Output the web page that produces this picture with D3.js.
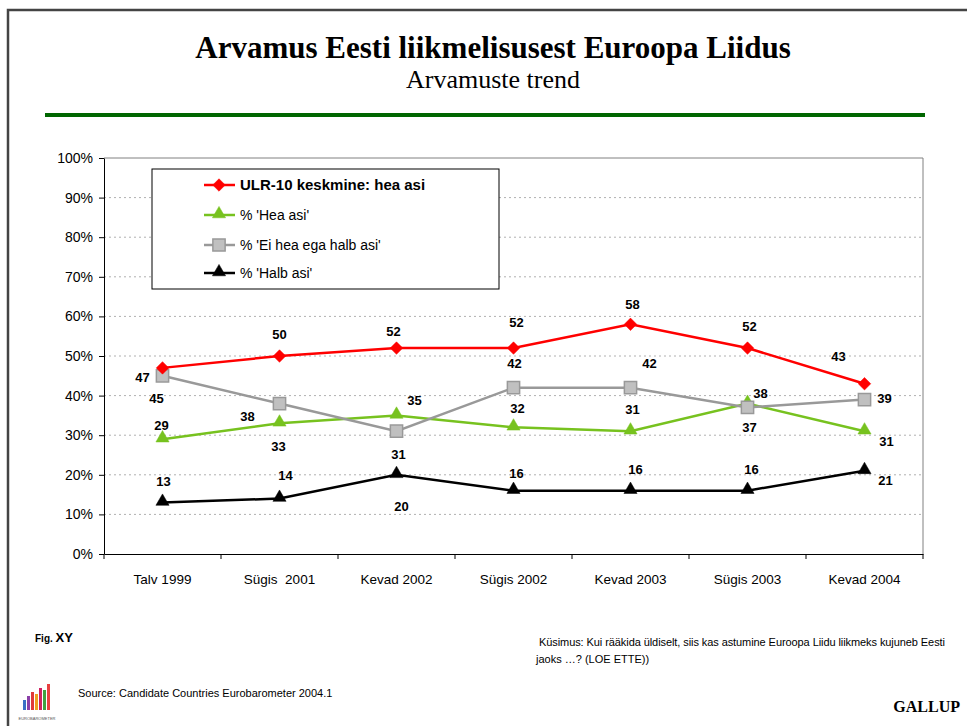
<!DOCTYPE html>
<html>
<head>
<meta charset="utf-8">
<script src="https://cdn.jsdelivr.net/npm/d3@7"></script>
<style>
  body { margin: 0; background: #fff; }
  svg text { font-family: "Liberation Sans", Arial, sans-serif; white-space: pre; }
</style>
</head>
<body>
<div id="graph"></div>
<script>
// data
const categories = ['Talv 1999', 'Sügis  2001', 'Kevad 2002', 'Sügis 2002', 'Kevad 2003', 'Sügis 2003', 'Kevad 2004'];
const ulrValues = [47, 50, 52, 52, 58, 52, 43];
const heaValues = [29, 33, 35, 32, 31, 38, 31];
const eiValues = [45, 38, 31, 42, 42, 37, 39];
const halbValues = [13, 14, 20, 16, 16, 16, 21];
const seriesNames = ["ULR-10 keskmine: hea asi", "% 'Hea asi'", "% 'Ei hea ega halb asi'", "% 'Halb asi'"];
const yTicks = [0, 10, 20, 30, 40, 50, 60, 70, 80, 90, 100];

// where each value label sits relative to its point, [dx, dy] in px (layout only)
const labelOffsets = [
    [[-20, 14], [0, -17], [-3, -12], [3, -21], [2, -15], [2, -17], [-26, -23]],
    [[-1, -9], [-1, 28], [18, -10], [4, -14], [2, -17], [13, -6], [22, 15]],
    [[-6, 27], [-32, 17], [2, 28], [1, -20], [19, -20], [2, 25], [20, 3]],
    [[1, -17], [6, -19], [5, 36], [3, -13], [5, -17], [4, -17], [21, 14]]
];

const series = [
    { name: seriesNames[0], values: ulrValues, color: '#ff0000', fill: '#ff0000', stroke: '#ff0000', symbol: 'diamond', bold: true },
    { name: seriesNames[1], values: heaValues, color: '#77c21f', fill: '#77c21f', stroke: '#77c21f', symbol: 'triangle' },
    { name: seriesNames[2], values: eiValues, color: '#999999', fill: '#c0c0c0', stroke: '#999999', symbol: 'square' },
    { name: seriesNames[3], values: halbValues, color: '#000000', fill: '#000000', stroke: '#000000', symbol: 'triangle' }
];

const W = 967, H = 726;
const plot = { left: 104, right: 923, top: 158, bottom: 554 };

const svg = d3.select('#graph').append('svg')
    .attr('width', W)
    .attr('height', H);

function marker(sel, s) {
    if (s.symbol === 'diamond') {
        sel.attr('d', d3.symbol().type(d3.symbolSquare).size(78));
    } else if (s.symbol === 'square') {
        sel.attr('d', d3.symbol().type(d3.symbolSquare).size(150));
    } else {
        sel.attr('d', d3.symbol().type(d3.symbolTriangle).size(75));
    }
    sel.attr('fill', s.fill)
        .attr('stroke', s.stroke)
        .attr('stroke-width', s.symbol === 'square' ? 1.5 : 0.5);
}
const rot = (s) => s.symbol === 'diamond' ? ' rotate(45)' : (s.symbol === 'triangle' ? ' translate(0,-1)' : '');

// page frame
svg.append('path')
    .attr('d', `M8,${H} L8,10 L${W},10`)
    .attr('fill', 'none')
    .attr('stroke', '#444')
    .attr('stroke-width', 2.5);

svg.append('text')
    .attr('x', 493).attr('y', 58)
    .attr('text-anchor', 'middle')
    .style('font-family', '"Liberation Serif", "Times New Roman", serif')
    .style('font-size', '31px')
    .style('font-weight', 'bold')
    .text('Arvamus Eesti liikmelisusest Euroopa Liidus');

svg.append('text')
    .attr('x', 493).attr('y', 88)
    .attr('text-anchor', 'middle')
    .style('font-family', '"Liberation Serif", "Times New Roman", serif')
    .style('font-size', '26px')
    .text('Arvamuste trend');

svg.append('rect')
    .attr('x', 45).attr('y', 113)
    .attr('width', 880).attr('height', 4)
    .attr('fill', '#006600');

const x = d3.scaleBand()
    .domain(categories)
    .range([plot.left, plot.right]);

const y = d3.scaleLinear()
    .domain([0, 100])
    .range([plot.bottom, plot.top]);

const cx = (i) => x(categories[i]) + x.bandwidth() / 2;

// gridlines
svg.append('g')
    .selectAll('line')
    .data(yTicks.filter(t => t > 0 && t < 100))
    .enter().append('line')
        .attr('x1', plot.left).attr('x2', plot.right)
        .attr('y1', d => y(d)).attr('y2', d => y(d))
        .attr('stroke', '#b0b0b0')
        .attr('stroke-dasharray', '2,3');

// plot frame top / right
svg.append('path')
    .attr('d', `M${plot.left},${plot.top} L${plot.right},${plot.top} L${plot.right},${plot.bottom}`)
    .attr('fill', 'none')
    .attr('stroke', '#808080')
    .attr('stroke-width', 1);

const yAxis = svg.append('g')
    .attr('transform', `translate(${plot.left},0)`)
    .call(d3.axisLeft(y).tickValues(yTicks).tickFormat(d => d + '%').tickSize(5).tickSizeOuter(0).tickPadding(6));
yAxis.selectAll('text').style('font-size', '14px').attr('fill', '#000');
yAxis.selectAll('line, path').attr('stroke', '#000');

const xAxis = svg.append('g')
    .attr('transform', `translate(0,${plot.bottom})`)
    .call(d3.axisBottom(x).tickSize(0).tickPadding(20));
xAxis.selectAll('text').style('font-size', '13.5px').attr('fill', '#000');
xAxis.select('.domain').attr('stroke', '#000');

// ticks at category boundaries
xAxis.selectAll('.sep')
    .data(d3.range(categories.length + 1))
    .enter().append('line')
        .attr('x1', i => plot.left + i * x.bandwidth())
        .attr('x2', i => plot.left + i * x.bandwidth())
        .attr('y1', 0).attr('y2', 5)
        .attr('stroke', '#000');

const line = d3.line()
    .x((d, i) => cx(i))
    .y(d => y(d));

// draw so the red series sits on top
const drawOrder = [3, 1, 2, 0];
drawOrder.forEach(k => {
    const s = series[k];
    const g = svg.append('g');
    g.append('path')
        .attr('d', line(s.values))
        .attr('fill', 'none')
        .attr('stroke', s.color)
        .attr('stroke-width', 2.5);
    g.selectAll('.pt')
        .data(s.values)
        .enter().append('path')
            .attr('transform', (d, i) => `translate(${cx(i)},${y(d)})` + rot(s))
            .call(marker, s);
});

// value labels
series.forEach((s, k) => {
    svg.append('g').selectAll('text')
        .data(s.values)
        .enter().append('text')
            .attr('x', (d, i) => cx(i) + labelOffsets[k][i][0])
            .attr('y', (d, i) => y(d) + labelOffsets[k][i][1])
            .attr('text-anchor', 'middle')
            .style('font-size', '13px')
            .style('font-weight', 'bold')
            .text(d => d);
});

// legend
const legend = svg.append('g');
legend.append('rect')
    .attr('x', 152).attr('y', 169)
    .attr('width', 347).attr('height', 120)
    .attr('fill', '#fff')
    .attr('stroke', '#000');

const rowY = [185, 215, 245, 273];
series.forEach((s, k) => {
    legend.append('line')
        .attr('x1', 204).attr('x2', 235)
        .attr('y1', rowY[k]).attr('y2', rowY[k])
        .attr('stroke', s.color)
        .attr('stroke-width', 2.5);
    legend.append('path')
        .attr('transform', `translate(219,${rowY[k]})` + rot(s))
        .call(marker, s);
    legend.append('text')
        .attr('x', 240).attr('y', rowY[k] + 5)
        .style('font-size', s.bold ? '15px' : '14px')
        .style('font-weight', s.bold ? 'bold' : 'normal')
        .text(s.name);
});

// footer
const fig = svg.append('text').attr('x', 35).attr('y', 642).style('font-weight', 'bold');
fig.append('tspan').style('font-size', '10px').text('Fig. ');
fig.append('tspan').style('font-size', '13px').text('XY');

const narrow = '"Liberation Sans Narrow", "Arial Narrow", sans-serif';
svg.append('text')
    .attr('x', 539).attr('y', 646)
    .style('font-family', narrow)
    .style('font-size', '11px')
    .attr('textLength', 406)
    .text('Küsimus: Kui rääkida üldiselt, siis kas astumine Euroopa Liidu liikmeks kujuneb Eesti');
svg.append('text')
    .attr('x', 536).attr('y', 663)
    .style('font-family', narrow)
    .style('font-size', '11px')
    .text('jaoks …? (LOE ETTE))');

svg.append('text')
    .attr('x', 78).attr('y', 697)
    .style('font-family', narrow)
    .style('font-size', '11px')
    .text('Source: Candidate Countries Eurobarometer 2004.1');

// small eurobarometer logo
const logoColors = ['#3a6fc4', '#8a3fa8', '#e03a3a', '#f0a020', '#d02060', '#40a040', '#e84040'];
const logoH = [10, 14, 18, 16, 22, 20, 26];
svg.append('g').selectAll('rect')
    .data(logoColors)
    .enter().append('rect')
        .attr('x', (d, i) => 23 + i * 4)
        .attr('y', (d, i) => 710 - logoH[i])
        .attr('width', 3)
        .attr('height', (d, i) => logoH[i])
        .attr('fill', d => d);
svg.append('text')
    .attr('x', 37).attr('y', 720)
    .attr('text-anchor', 'middle')
    .style('font-size', '4px')
    .attr('fill', '#555')
    .text('EUROBAROMETER');

svg.append('text')
    .attr('x', 960).attr('y', 712)
    .attr('text-anchor', 'end')
    .style('font-family', '"Liberation Serif", "Times New Roman", serif')
    .style('font-size', '16px')
    .style('font-weight', 'bold')
    .text('GALLUP');
</script>
</body>
</html>
